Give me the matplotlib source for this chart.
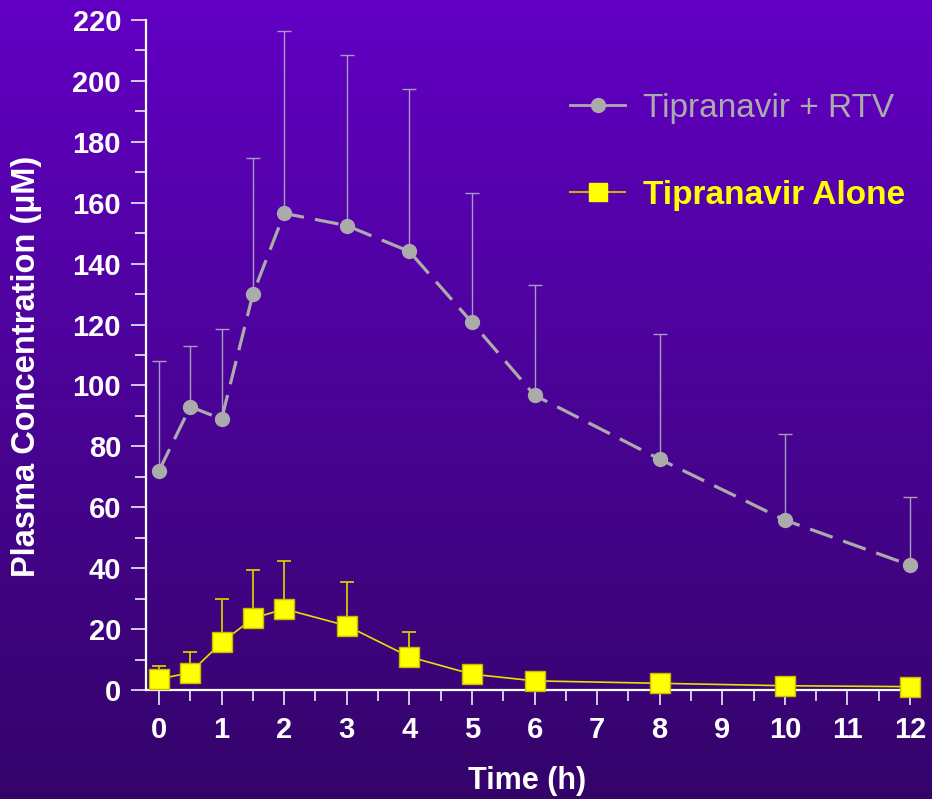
import numpy as np
import matplotlib
matplotlib.use("Agg")
import matplotlib.pyplot as plt
from matplotlib.colors import LinearSegmentedColormap
from matplotlib.lines import Line2D

# sampling times (h)
time = [0, 0.5, 1, 1.5, 2, 3, 4, 5, 6, 8, 10, 12]

# Tipranavir + RTV (mean, upper SD)
rtv_mean = [72, 93, 89, 130, 156.5, 152.5, 144, 120.7, 96.8, 75.8, 55.8, 41]
rtv_err = [36, 20, 29.7, 44.8, 60, 56, 53.4, 42.6, 36.2, 41.2, 28.4, 22.4]

# Tipranavir alone (mean, upper SD)
alone_mean = [3.6, 5.7, 15.6, 23.5, 26.6, 21.1, 10.9, 5.2, 3.0, 2.2, 1.4, 1.1]
alone_err = [4.3, 6.9, 14.4, 15.9, 15.8, 14.4, 8.3, 0, 0, 0, 0, 0]

xticks = list(range(0, 13))
yticks = list(range(0, 221, 20))

GREY = "#ababab"
YELLOW = "#ffff00"

plt.rcParams['font.family'] = ['Liberation Sans', 'DejaVu Sans']

fig = plt.figure(figsize=(9.32, 7.99), dpi=100)

# purple gradient background
bg = fig.add_axes([0, 0, 1, 1], zorder=-1)
cmap = LinearSegmentedColormap.from_list("bg", ["#34046a", "#4a0396", "#6200c4"])
grad = np.linspace(0, 1, 256).reshape(-1, 1)
bg.imshow(grad, aspect="auto", cmap=cmap, origin="lower", extent=[0, 1, 0, 1])
bg.axis("off")

ax = fig.add_axes([146 / 932, 1 - 690 / 799, (910 - 146) / 932, (690 - 20) / 799])
ax.patch.set_alpha(0)

# RTV series
eb = ax.errorbar(time, rtv_mean, yerr=[np.zeros(len(rtv_err)), rtv_err], fmt="none",
                 ecolor="#a59cc0", elinewidth=1, capsize=5, capthick=1, zorder=2)
for art in eb.lines[1] + eb.lines[2]:
    art.set_clip_on(False)
ax.plot(time, rtv_mean, color=GREY, lw=2.3, ls=(0, (7.5, 3.5)), marker="o", ms=10,
        mfc=GREY, mec=GREY, zorder=3, clip_on=False)

# alone series
ax.errorbar(time[:7], alone_mean[:7], yerr=[np.zeros(7), alone_err[:7]], fmt="none",
            ecolor="#d8c800", elinewidth=1.3, capsize=5, capthick=1.3, zorder=2)
ax.plot(time, alone_mean, color="#e8e000", lw=1.2, marker="s", ms=14,
        mfc=YELLOW, mec="#c8b800", mew=1, zorder=4, clip_on=False)

ax.set_xlim(-0.208, 12)
ax.set_ylim(0, 220)
ax.set_xticks(xticks)
ax.set_xticks(np.arange(0.5, 12, 1), minor=True)
ax.set_yticks(yticks)
ax.set_yticks(range(10, 220, 20), minor=True)

for s in ["top", "right"]:
    ax.spines[s].set_visible(False)
for s in ["left", "bottom"]:
    ax.spines[s].set_color("white")
    ax.spines[s].set_linewidth(1.6)

ax.tick_params(axis="both", which="major", colors="#e0d8f0", width=1.3, length=11,
               labelcolor="white", labelsize=21)
ax.tick_params(axis="both", which="minor", colors="#e0d8f0", width=1.3, length=8)
ax.tick_params(axis="x", which="major", pad=8)
ax.tick_params(axis="y", which="major", pad=7)
for lab in ax.get_xticklabels() + ax.get_yticklabels():
    lab.set_fontweight("bold")

fig.text(27 / 932, 1 - 366 / 799, "Plasma Concentration (µM)", rotation=90,
         ha="center", va="center", color="white", fontsize=23.5, fontweight="bold")
fig.text(527 / 932, 1 - 781 / 799, "Time (h)", ha="center", va="center",
         color="white", fontsize=22, fontweight="bold")

handles = [
    Line2D([], [], color=GREY, lw=2, marker="o", ms=10, mfc=GREY, mec=GREY),
    Line2D([], [], color="#c8b400", lw=1.5, marker="s", ms=13, mfc=YELLOW, mec=YELLOW),
]
leg = ax.legend(handles, ["Tipranavir + RTV", "Tipranavir Alone"], loc="upper left",
                bbox_to_anchor=((570 - 146) / 764, (690 - 93) / 670), frameon=False,
                fontsize=24, borderpad=0, borderaxespad=0,
                handlelength=1.65, handletextpad=0.55, labelspacing=1.68)
texts = leg.get_texts()
texts[0].set_color(GREY)
texts[1].set_color(YELLOW)
texts[1].set_fontweight("bold")

fig.savefig("out.png", dpi=100)
